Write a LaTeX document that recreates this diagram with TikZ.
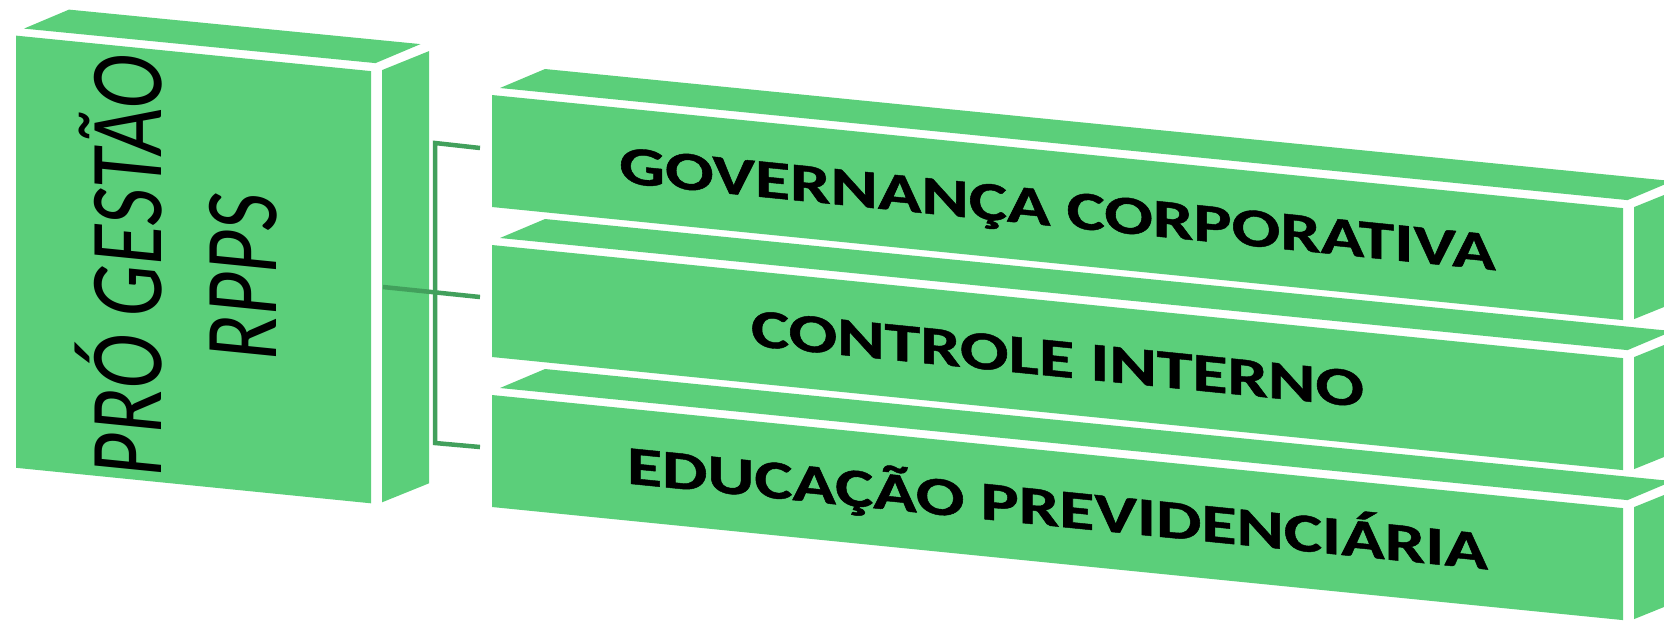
\documentclass[tikz,border=0pt]{standalone}
\usepackage{fontspec}
\setmainfont{Carlito}
\newfontfamily\negrito{Carlito Bold}[FakeBold=0.8]
\usepackage{tikz}

\definecolor{verdecaixa}{RGB}{91,207,122}
\definecolor{verdelinha}{RGB}{66,160,92}

% caixa em perspectiva: canto sup. esq. da frente, largura, altura
\newcommand{\caixa}[4]{%
  \begin{scope}[shift={(#1,#2)}]
    \fill[verdecaixa] (0,0) -- (#3,0.1*#3) -- (#3,0.1*#3+#4) -- (0,#4) -- cycle;
    \fill[verdecaixa] (0.08,-0.07) -- (#3+0.045,0.1*#3-0.08) -- (#3+0.495,0.1*#3-0.27) -- (0.53,-0.26) -- cycle;
    \fill[verdecaixa] (#3+0.11,0.1*#3-0.01) -- (#3+0.58,0.1*#3-0.2) -- (#3+0.58,0.1*#3+#4-0.2) -- (#3+0.11,0.1*#3+#4-0.01) -- cycle;
  \end{scope}}

\begin{document}
\begin{tikzpicture}[x=1cm, y=-1cm,
  conector/.style={draw=verdelinha, line width=0.045cm},
  rotulo/.style={font=\fontsize{15.5}{18}\selectfont\negrito, transform shape, xscale=1.32, anchor=base, inner sep=0pt}]
\useasboundingbox (0,0) rectangle (16.64,6.20);
\clip (0,0) rectangle (16.64,6.20);

% caixa principal
\caixa{0.16}{0.356}{3.55}{4.322}
\begin{scope}[shift={(1.76,2.69)}, yslant=-0.1]
  \node[transform shape, rotate=90, xscale=0.79, align=center,
    font=\fontsize{29.5}{32.7}\selectfont] (pro) at (0,0) {PRÓ GESTÃO\\RPPS};
\end{scope}

% caixas da direita
\foreach \y/\texto/\nome in {0.95/GOVERNANÇA CORPORATIVA/gov,
    2.45/CONTROLE INTERNO/ctrl, 3.95/EDUCAÇÃO PREVIDENCIÁRIA/edu}{
  \caixa{4.92}{\y}{11.31}{1.12}
  \begin{scope}[shift={(10.575,\y+1.315)}, yslant=-0.1]
    \node[rotulo] (\nome) at (0,0) {\texto};
  \end{scope}
}

% conectores
\coordinate (esq) at (3.83,2.87);
\coordinate (v1) at (4.35,1.43);
\coordinate (v3) at (4.35,4.43);
\coordinate (c1) at (4.80,1.48);
\coordinate (c2) at (4.80,2.97);
\coordinate (c3) at (4.80,4.47);
\draw[conector] (c1) -- (v1) -- (v3) -- (c3);
\draw[conector] (esq) -- (c2);

\end{tikzpicture}
\end{document}
